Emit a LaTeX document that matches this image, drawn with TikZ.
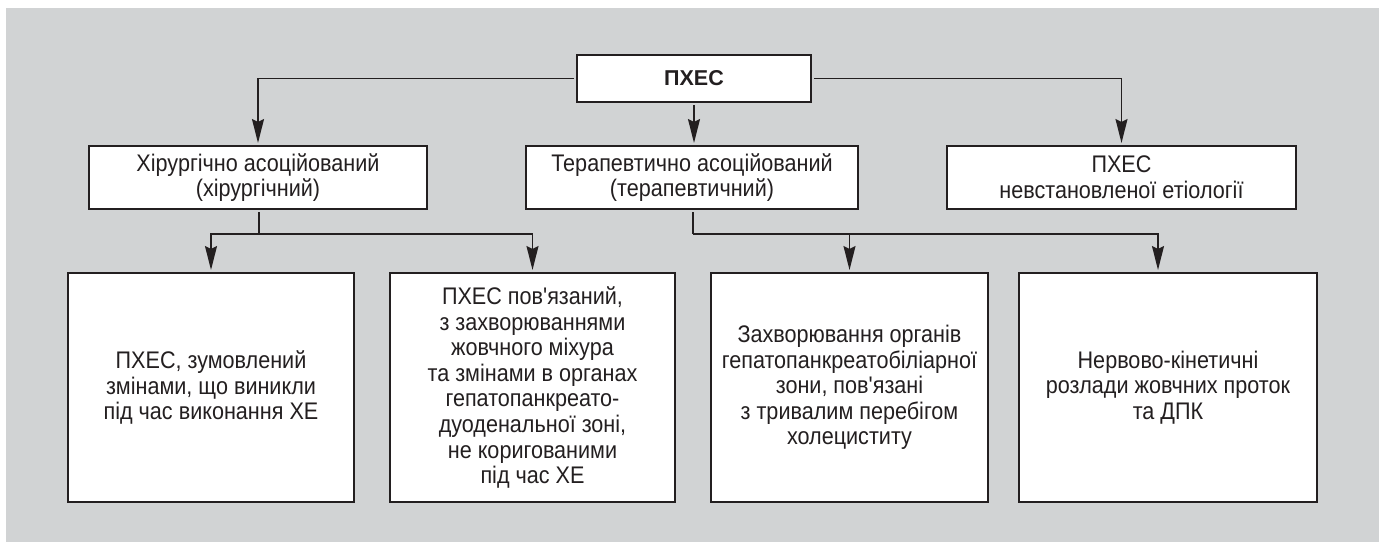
\documentclass[tikz,border=0pt]{standalone}
\usepackage{fontspec}
\setmainfont{Liberation Sans}
\newfontfamily\boxfont{Liberation Sans}[FakeStretch=0.9]
\usetikzlibrary{arrows.meta}
\definecolor{bggray}{RGB}{209,211,212}
\definecolor{ink}{RGB}{35,31,32}
\begin{document}
\begin{tikzpicture}[x=1pt,y=-1pt,
  every node/.style={inner sep=0pt,outer sep=0pt},
  box/.style={draw=ink,line width=1.8pt,fill=white,align=center,
    font={\boxfont\fontsize{24}{25.6}\selectfont},text=ink},
  conn/.style={draw=ink,line width=1.8pt,line join=miter},
  arr/.style={conn,-{Stealth[length=24pt,width=12pt,inset=3pt]}}]
\useasboundingbox (0,0) rectangle (1379,542);
\fill[bggray] (6,8) rectangle (1379,542);
% top
\node[box,minimum width=234pt,minimum height=47pt,font={\fontsize{21.5}{26}\selectfont\bfseries}] (top) at (694,78.5) {ПХЕС};
% level 2
\node[box,minimum width=338pt,minimum height=63pt] (A) at (258,177.5) {Хірургічно асоційований\\(хірургічний)};
\node[box,minimum width=332pt,minimum height=63pt] (B) at (692,177.5) {Терапевтично асоційований\\(терапевтичний)};
\node[box,minimum width=349pt,minimum height=63pt] (C) at (1121.5,177.5) {ПХЕС\\невстановленої етіології};
% level 3
\node[box,minimum width=286pt,minimum height=229pt] (b1) at (211,387.5) {ПХЕС, зумовлений\\змінами, що виникли\\під час виконання ХЕ};
\node[box,minimum width=285pt,minimum height=229pt] (b2) at (532.5,387.5) {ПХЕС пов'язаний,\\з захворюваннями\\жовчного міхура\\та змінами в органах\\гепатопанкреато-\\дуоденальної зоні,\\не коригованими\\під час ХЕ};
\node[box,minimum width=277pt,minimum height=229pt] (b3) at (849.5,387.5) {Захворювання органів\\гепатопанкреатобіліарної\\зони, пов'язані\\з тривалим перебігом\\холециститу};
\node[box,minimum width=298pt,minimum height=229pt] (b4) at (1168,387.5) {Нервово-кінетичні\\розлади жовчних проток\\та ДПК};
% connectors from top
\draw[arr] ([xshift=-3pt]top.west) -| ([yshift=3pt]A.north);
\draw[arr] ([yshift=-3pt]top.south) -- ([yshift=3pt]top.south |- A.north);
\draw[arr] ([xshift=3pt]top.east) -| ([yshift=3pt]C.north);
% junctions
\coordinate (jA) at (259,234);
\coordinate (jB) at (693,234);
\draw[conn] ([yshift=-3pt]A.south -| jA) -- (jA);
\draw[arr] (jA) -| ([yshift=3pt]b1.north);
\draw[arr] (jA) -| ([yshift=3pt]b2.north);
\draw[conn] ([yshift=-3pt]B.south -| jB) -- (jB);
\draw[arr] (jB) -| ([yshift=3pt]b3.north);
\draw[arr] (jB) -| ([xshift=-10pt,yshift=3pt]b4.north);
\end{tikzpicture}
\end{document}
